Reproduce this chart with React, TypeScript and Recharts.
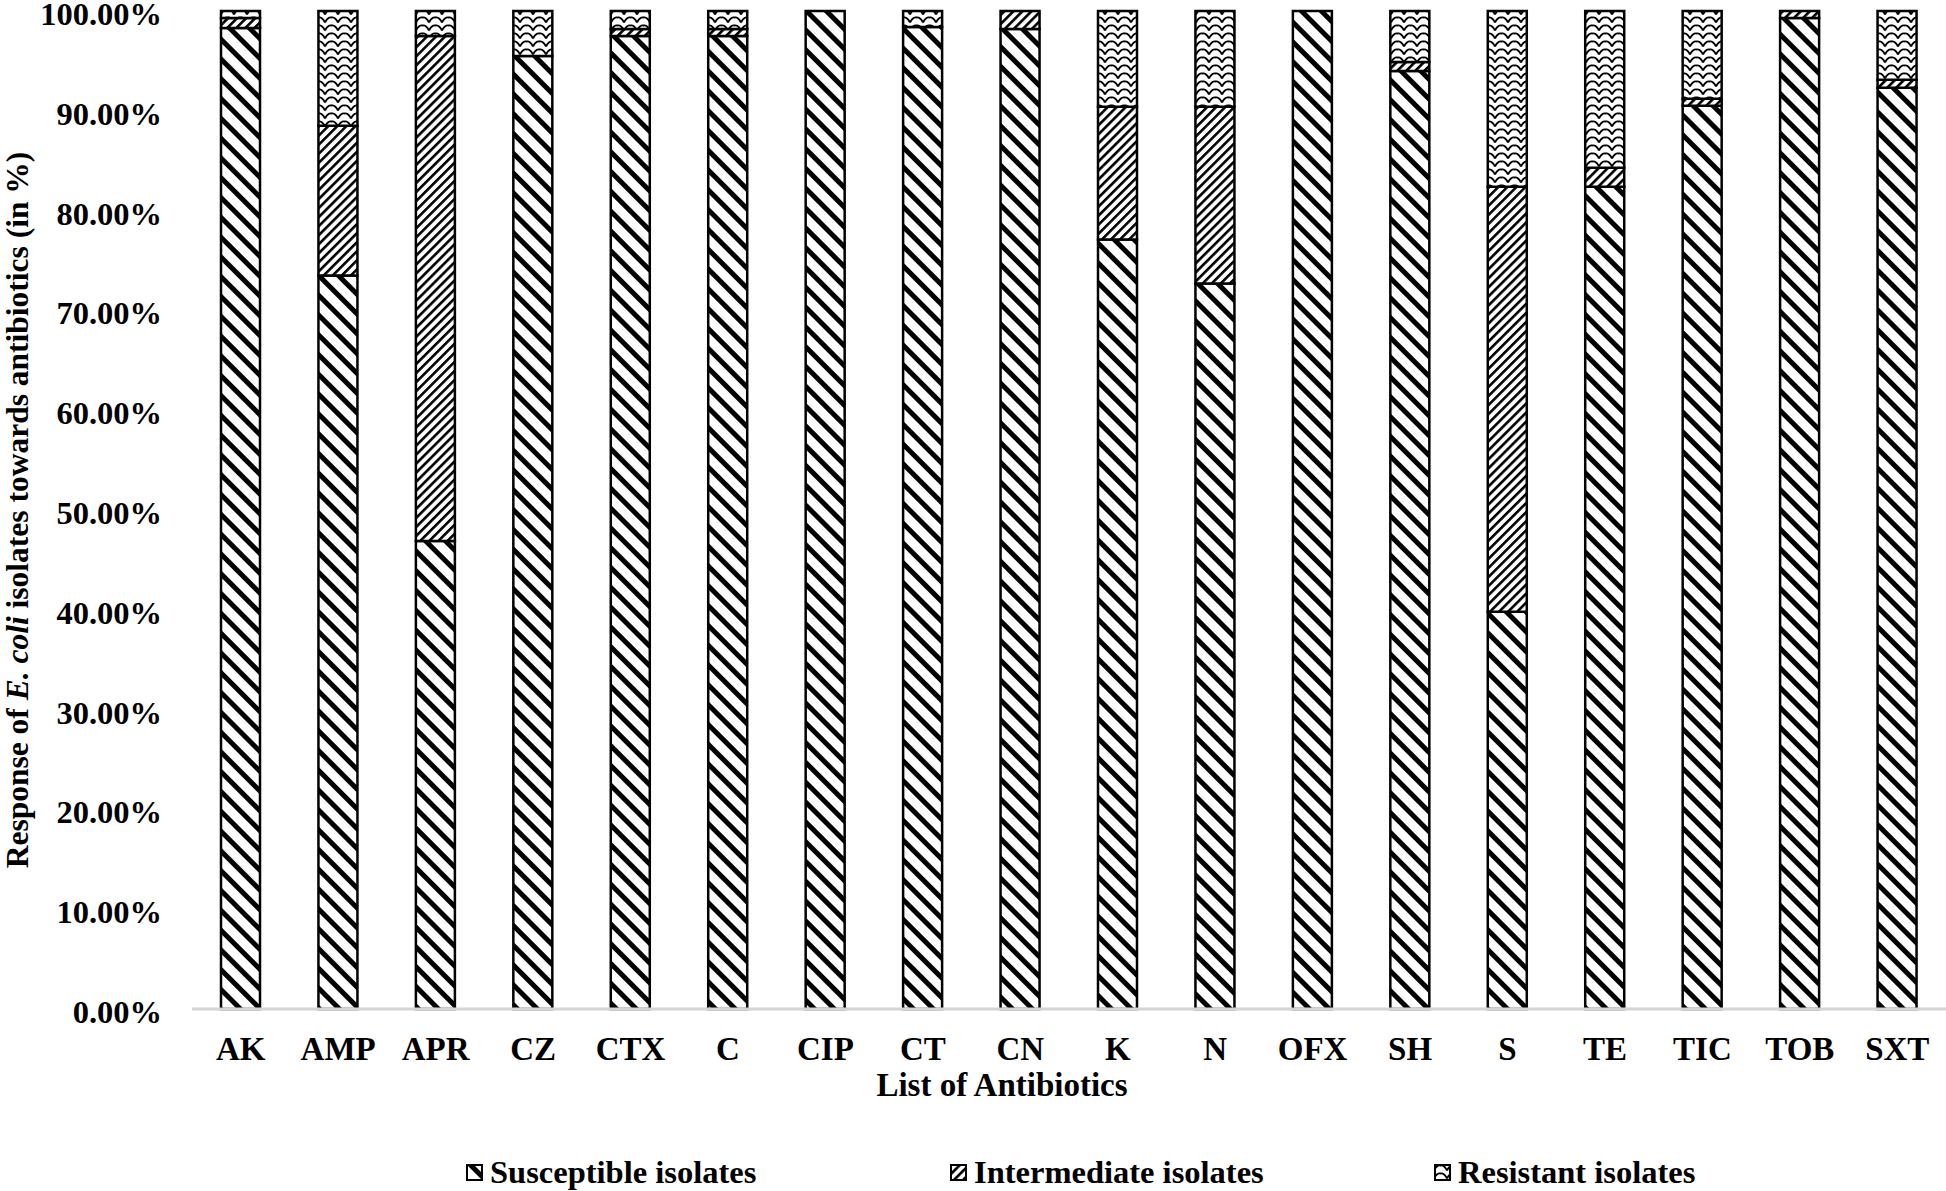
import { Bar, BarChart, Legend, XAxis, YAxis } from "recharts";

// Stacked 100% bars of E. coli responses per antibiotic, drawn in black and white
// hatch patterns like the original Excel figure.

const ANTIBIOTICS = ["AK", "AMP", "APR", "CZ", "CTX", "C", "CIP", "CT", "CN", "K", "N", "OFX", "SH", "S", "TE", "TIC", "TOB", "SXT"];
const SUSCEPTIBLE = [98.3, 73.5, 46.9, 95.5, 97.5, 97.5, 100, 98.4, 98.2, 77.1, 72.7, 100, 94.0, 39.8, 82.4, 90.5, 99.3, 92.3];
const INTERMEDIATE = [1.0, 15.0, 50.6, 0, 0.7, 0.7, 0, 0, 1.8, 13.3, 17.7, 0, 0.9, 42.6, 1.9, 0.7, 0.7, 0.8];
const RESISTANT = [0.7, 11.5, 2.5, 4.5, 1.8, 1.8, 0, 1.6, 0, 9.6, 9.6, 0, 5.1, 17.6, 15.7, 8.8, 0, 6.9];
const Y_TICKS = [0, 10, 20, 30, 40, 50, 60, 70, 80, 90, 100];

const SERIES = [
  { key: "susceptible", label: "Susceptible isolates", fill: "url(#hatchS)", swatch: "hatchS" },
  { key: "intermediate", label: "Intermediate isolates", fill: "url(#hatchI)", swatch: "hatchI" },
  { key: "resistant", label: "Resistant isolates", fill: "url(#hatchR)", swatch: "hatchR" },
];

const data = ANTIBIOTICS.map((name, i) => ({
  name,
  susceptible: SUSCEPTIBLE[i],
  intermediate: INTERMEDIATE[i],
  resistant: RESISTANT[i],
}));

const FONT = "'Liberation Serif', 'Times New Roman', serif";

function Patterns({ suffix = "" }: { suffix?: string }) {
  return (
    <defs>
      <pattern id={"hatchS" + suffix} patternUnits="userSpaceOnUse" width="14" height="14" patternTransform="rotate(-45)">
        <rect width="14" height="14" fill="#fff" />
        <rect x="0" y="0" width="5" height="14" fill="#000" />
      </pattern>
      <pattern id={"hatchI" + suffix} patternUnits="userSpaceOnUse" width="6.4" height="6.4" patternTransform="rotate(45)">
        <rect width="6.4" height="6.4" fill="#fff" />
        <rect x="0" y="0" width="2.6" height="6.4" fill="#000" />
      </pattern>
      <pattern id={"hatchR" + suffix} patternUnits="userSpaceOnUse" width="13" height="8">
        <rect width="13" height="8" fill="#fff" />
        <path d="M0 6.5 Q3.2 0.5 6.5 1.5 Q9.8 0.5 13 6.5" fill="none" stroke="#000" strokeWidth="1.9" />
      </pattern>
    </defs>
  );
}

function XTick({ x, y, payload }: any) {
  return (
    <text x={x} y={y + 38} textAnchor="middle" dominantBaseline="central" fontFamily={FONT} fontWeight="bold" fontSize={33} fill="#000">
      {payload.value}
    </text>
  );
}

function YTick({ x, y, payload }: any) {
  return (
    <text x={x} y={y + 3} textAnchor="end" dominantBaseline="central" fontFamily={FONT} fontWeight="bold" fontSize={32.5} fill="#000">
      {payload.value.toFixed(2) + "%"}
    </text>
  );
}

function YTitle({ viewBox }: any) {
  const cx = viewBox.x + 17;
  const cy = viewBox.y + viewBox.height / 2;
  return (
    <text x={cx} y={cy} transform={`rotate(-90 ${cx} ${cy})`} textAnchor="middle" dominantBaseline="central" fontFamily={FONT} fontWeight="bold" fontSize={31.5} fill="#000">
      Response of <tspan fontStyle="italic">E. coli</tspan> isolates towards antibiotics (in %)
    </text>
  );
}

function XTitle({ viewBox }: any) {
  const cx = viewBox.x + viewBox.width / 2 - 67;
  return (
    <text x={cx} y={viewBox.y + 76} textAnchor="middle" dominantBaseline="central" fontFamily={FONT} fontWeight="bold" fontSize={33} fill="#000">
      List of Antibiotics
    </text>
  );
}

const LEGEND_X = [466, 950, 1434];

function LegendContent() {
  return (
    <div style={{ position: "relative", height: 38, width: 1946 }}>
      {SERIES.map((s, i) => (
        <div key={s.key} style={{ position: "absolute", left: LEGEND_X[i], top: 0, height: 38, display: "flex", alignItems: "center" }}>
          <svg width={17} height={17} style={{ marginRight: 7 }}>
            <Patterns suffix="L" />
            <rect x={1} y={1} width={15} height={15} fill={`url(#${s.swatch}L)`} stroke="#000" strokeWidth={2} />
          </svg>
          <span style={{ fontFamily: FONT, fontWeight: "bold", fontSize: 32.5, color: "#000", whiteSpace: "nowrap" }}>{s.label}</span>
        </div>
      ))}
    </div>
  );
}

export default function App() {
  return (
    <div style={{ position: "absolute", left: 0, top: 0, width: 1946, height: 1191, background: "#fff" }}>
      <BarChart width={1946} height={1191} data={data} margin={{ top: 11, right: 0, left: 0, bottom: 0 }} barSize={39}>
        <Patterns />
        <XAxis
          dataKey="name"
          height={144}
          tickLine={false}
          tickSize={0}
          axisLine={{ stroke: "#d4d4d4", strokeWidth: 3 }}
          tick={<XTick />}
          interval={0}
          label={{ content: <XTitle /> }}
        />
        <YAxis
          width={192}
          domain={[0, 100]}
          ticks={Y_TICKS}
          interval={0}
          axisLine={false}
          tickLine={false}
          tickSize={0}
          tickMargin={30}
          tick={<YTick />}
          label={{ content: <YTitle /> }}
        />
        <Legend verticalAlign="bottom" content={<LegendContent />} wrapperStyle={{ left: 0, width: 1946 }} />
        {SERIES.map((s) => (
          <Bar key={s.key} dataKey={s.key} stackId="a" fill={s.fill} stroke="#000" strokeWidth={2.5} isAnimationActive={false} />
        ))}
      </BarChart>
    </div>
  );
}
